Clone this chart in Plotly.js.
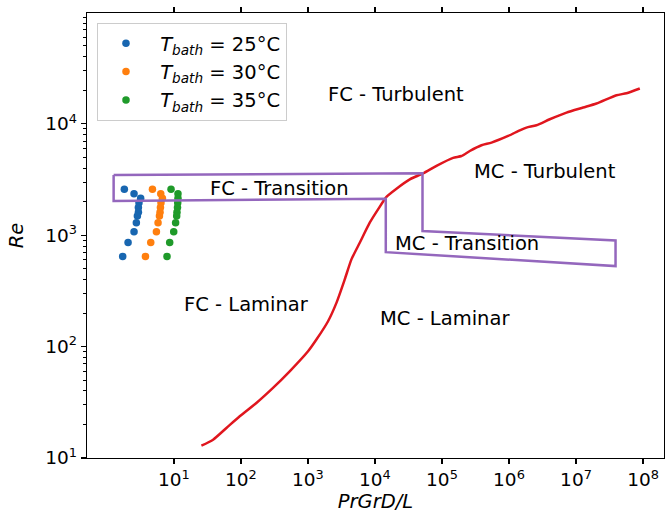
<!DOCTYPE html>
<html>
<head>
<meta charset="utf-8">
<script src="https://cdn.plot.ly/plotly-3.0.1.min.js"></script>
<style>
  html, body { margin: 0; padding: 0; background: #ffffff; }
  #chart { width: 666px; height: 516px; }
</style>
</head>
<body>
<div id="chart"></div>
<script>
// Measured Reynolds numbers (shared by all bath temperatures)
const reValues = [2580, 2360, 2150, 1960, 1770, 1610, 1485, 1295, 1075, 860, 645];

// PrGrD/L for each bath temperature
const prgr25 = [1.82, 2.54, 3.19, 3.01, 2.95, 2.95, 2.85, 2.75, 2.54, 2.07, 1.72];
const prgr30 = [4.78, 6.36, 6.73, 6.41, 6.29, 6.21, 6.08, 5.80, 5.48, 4.51, 3.76];
const prgr35 = [9.06, 11.5, 11.5, 11.4, 11.3, 11.1, 11.0, 10.6, 9.93, 8.65, 7.89];

const seriesNames = ['&nbsp;<i>T</i><sub><i>bath</i></sub> = 25°C',
                     '&nbsp;<i>T</i><sub><i>bath</i></sub> = 30°C',
                     '&nbsp;<i>T</i><sub><i>bath</i></sub> = 35°C'];

// Forced / mixed convection boundary
const boundaryX = [25.7, 38.4, 60.8, 95.9, 170, 301, 534, 1003, 1338, 1995, 2661, 3540, 4457,
                   5930, 8360, 11120, 14850, 20950, 33100, 52300, 82800, 146500, 195500, 260000,
                   389000, 548000, 970000, 1.45e6, 1.82e6, 2.57e6, 4.06e6, 7.21e6, 1.28e7,
                   2.02e7, 4.02e7, 5.67e7, 8.95e7];
const boundaryY = [12.9, 14.6, 18.6, 23.7, 31.2, 42.6, 60.0, 90.8, 115.7, 169, 247, 401, 607,
                   856, 1295, 1706, 2210, 2618, 3175, 3594, 4197, 4953, 5140, 5702,
                   6417, 6784, 7779, 8750, 9254, 9705, 10990, 12620, 14000,
                   15210, 18060, 18820, 20750];

// Transition region outline (closed)
const transX = [1.26, 51200, 51200, 3.89e7, 3.89e7, 14500, 14500, 1.26, 1.26];
const transY = [3470, 3594, 1089, 898, 528, 705, 2130, 2026, 3470];

// Regime labels and their anchor points
const regimeLabels = ['FC - Turbulent', 'FC - Transition', 'MC - Turbulent',
                      'MC - Transition', 'FC - Laminar', 'MC - Laminar'];
const regimeX = [2.08e4, 373, 3.42e6, 2.34e5, 122, 1.12e5];
const regimeY = [1.84e4, 2636, 3750, 843, 240, 180];

// Tick labels
const xTickVals = [1e1, 1e2, 1e3, 1e4, 1e5, 1e6, 1e7, 1e8];
const xTickText = ['10<sup>1</sup>', '10<sup>2</sup>', '10<sup>3</sup>', '10<sup>4</sup>',
                   '10<sup>5</sup>', '10<sup>6</sup>', '10<sup>7</sup>', '10<sup>8</sup>'];
const yTickVals = [1e1, 1e2, 1e3, 1e4];
const yTickText = ['10<sup>1</sup>', '10<sup>2</sup>', '10<sup>3</sup>', '10<sup>4</sup>'];

const colors = ['#1866b0', '#ff7f0e', '#1f9a2a'];
const FONT = 'DejaVu Sans, sans-serif';

// minor ticks on the Re axis: 2..9 in each decade
const yMinor = [];
for (let d = 1; d <= 4; d++) {
  for (let m = 2; m <= 9; m++) yMinor.push(m * Math.pow(10, d));
}

const traces = [];
[prgr25, prgr30, prgr35].forEach((xs, i) => {
  traces.push({
    x: xs, y: reValues, type: 'scatter', mode: 'markers',
    name: seriesNames[i], legendgroup: 'g' + i,
    marker: { color: colors[i], size: 7.5 }
  });
});
traces.push({
  x: boundaryX, y: boundaryY, type: 'scatter', mode: 'lines',
  line: { color: '#e0161e', width: 2.5, shape: 'spline', smoothing: 0.6 },
  showlegend: false, hoverinfo: 'skip'
});
traces.push({
  x: transX, y: transY, type: 'scatter', mode: 'lines',
  line: { color: '#9467bd', width: 2.5 }, showlegend: false, hoverinfo: 'skip'
});

const annotations = regimeLabels.map((t, i) => ({
  text: t, x: Math.log10(regimeX[i]), y: Math.log10(regimeY[i]),
  xref: 'x', yref: 'y', showarrow: false,
  font: { family: FONT, size: 19.5, color: '#000000' }
}));

const layout = {
  width: 666, height: 516,
  margin: { l: 87.3, r: 2, t: 13.3, b: 57.7 },
  paper_bgcolor: '#ffffff', plot_bgcolor: '#ffffff',
  font: { family: FONT, size: 18, color: '#000000' },
  showlegend: true,
  legend: {
    x: 0.0173, y: 0.9775, xanchor: 'left', yanchor: 'top',
    bgcolor: 'rgba(255,255,255,0.8)', bordercolor: '#cccccc', borderwidth: 1,
    font: { family: FONT, size: 19.5, color: '#000000' },
    tracegroupgap: 0, itemwidth: 46
  },
  xaxis: {
    type: 'log', range: [-0.297, 8.313],
    showgrid: false, zeroline: false,
    showline: true, linecolor: '#000000', linewidth: 1.2, mirror: 'ticks',
    ticks: 'outside', ticklen: 5, tickwidth: 1.2, tickcolor: '#000000',
    tickmode: 'array', tickvals: xTickVals, ticktext: xTickText,
    tickfont: { family: FONT, size: 18.5 },
    title: { text: '<i>PrGrD/L</i>', font: { family: FONT, size: 19.5 }, standoff: 5 }
  },
  yaxis: {
    type: 'log', range: [1, 4.995],
    showgrid: false, zeroline: false,
    showline: true, linecolor: '#000000', linewidth: 1.2, mirror: true,
    ticks: 'outside', ticklen: 5, tickwidth: 1.2, tickcolor: '#000000',
    tickmode: 'array', tickvals: yTickVals, ticktext: yTickText,
    tickfont: { family: FONT, size: 18.5 },
    minor: { tickmode: 'array', tickvals: yMinor, ticks: 'outside', ticklen: 3, tickwidth: 1, tickcolor: '#000000' },
    title: { text: '<i>Re</i>', font: { family: FONT, size: 19.5 }, standoff: 16 }
  },
  annotations: annotations
};

Plotly.newPlot('chart', traces, layout, { displayModeBar: false, staticPlot: true });
</script>
</body>
</html>
